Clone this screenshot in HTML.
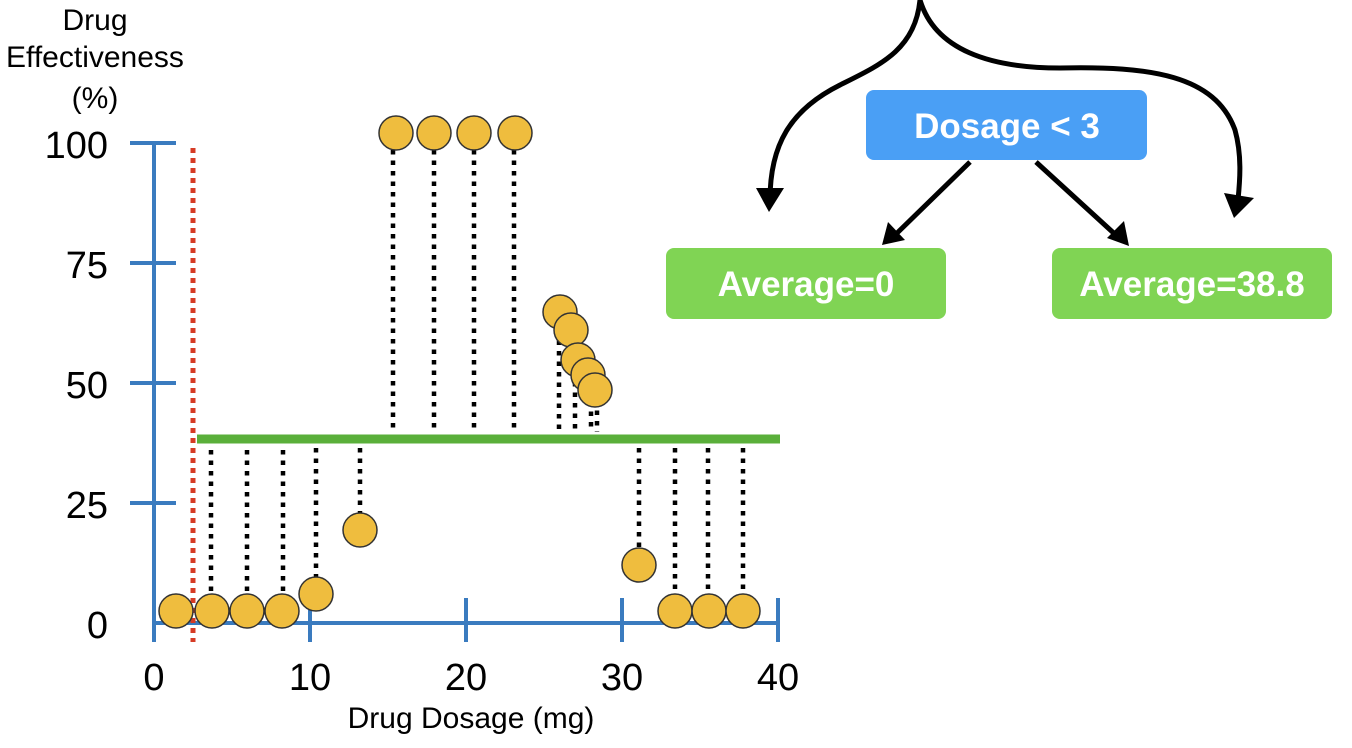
<!DOCTYPE html>
<html><head><style>body{margin:0;background:#fff}svg{display:block}</style></head><body>
<svg width="1352" height="748" viewBox="0 0 1352 748" font-family="Liberation Sans, sans-serif">
<g fill="#000" font-size="30" text-anchor="middle">
<text x="95" y="30">Drug</text><text x="95" y="67">Effectiveness</text><text x="95" y="108">(%)</text>
<text x="471" y="728">Drug Dosage (mg)</text>
</g>
<g font-size="38" text-anchor="end">
<text x="108" y="158">100</text><text x="108" y="278">75</text><text x="108" y="398">50</text><text x="108" y="518">25</text><text x="108" y="638">0</text>
</g>
<g font-size="38" text-anchor="middle">
<text x="154" y="690">0</text><text x="310" y="690">10</text><text x="466" y="690">20</text><text x="622" y="690">30</text><text x="778" y="690">40</text>
</g>
<g stroke="#3a7bbf" stroke-width="4">
<line x1="154" y1="141" x2="154" y2="642"/><line x1="152" y1="623" x2="780" y2="623"/>
<line x1="130" y1="143" x2="176" y2="143"/><line x1="130" y1="263" x2="176" y2="263"/><line x1="130" y1="383" x2="176" y2="383"/><line x1="130" y1="503" x2="176" y2="503"/>
<line x1="310" y1="598" x2="310" y2="642"/><line x1="466" y1="598" x2="466" y2="642"/><line x1="622" y1="598" x2="622" y2="642"/><line x1="778" y1="598" x2="778" y2="642"/>
</g>
<line x1="193" y1="148" x2="193" y2="642" stroke="#d63b25" stroke-width="5" stroke-dasharray="5,5"/>
<g stroke="#000" stroke-width="4.5" stroke-dasharray="4.5,6">
<line x1="211" y1="450" x2="211" y2="600"/><line x1="247" y1="450" x2="247" y2="600"/><line x1="283" y1="450" x2="283" y2="600"/><line x1="316" y1="448" x2="316" y2="582"/><line x1="360" y1="448" x2="360" y2="515"/>
<line x1="393" y1="150" x2="393" y2="432"/><line x1="434" y1="150" x2="434" y2="432"/><line x1="474" y1="150" x2="474" y2="432"/><line x1="514" y1="150" x2="514" y2="432"/>
<line x1="559" y1="330" x2="559" y2="432"/><line x1="575" y1="340" x2="575" y2="432"/><line x1="591" y1="380" x2="591" y2="432"/><line x1="597" y1="400" x2="597" y2="432"/>
<line x1="639" y1="448" x2="639" y2="550"/><line x1="675" y1="448" x2="675" y2="598"/><line x1="708" y1="448" x2="708" y2="598"/><line x1="743" y1="448" x2="743" y2="598"/>
</g>
<line x1="197" y1="439" x2="780" y2="439" stroke="#5aaf3a" stroke-width="9"/>
<g fill="#efbd3e" stroke="#333" stroke-width="1.5">
<circle cx="176" cy="611" r="17"/><circle cx="212" cy="611" r="17"/><circle cx="247" cy="611" r="17"/><circle cx="282" cy="611" r="17"/><circle cx="316" cy="594" r="17"/><circle cx="360" cy="530" r="17"/>
<circle cx="396" cy="133" r="17"/><circle cx="434" cy="133" r="17"/><circle cx="474" cy="133" r="17"/><circle cx="515" cy="133" r="17"/>
<circle cx="560" cy="312" r="17"/><circle cx="571" cy="330" r="17"/><circle cx="578" cy="360" r="17"/><circle cx="588" cy="375" r="17"/><circle cx="595" cy="390" r="17"/>
<circle cx="639" cy="565" r="17"/><circle cx="675" cy="611" r="17"/><circle cx="709" cy="611" r="17"/><circle cx="743" cy="611" r="17"/>
</g>
<g fill="none" stroke="#000" stroke-width="5">
<path d="M920 0 C915 50 880 65 840 85 C790 110 770 145 770 200"/>
<path d="M920 0 C935 50 990 68 1060 68 C1150 66 1215 75 1235 130 C1242 155 1240 180 1238 200"/>
<line x1="970" y1="162" x2="893" y2="237"/><line x1="1036" y1="162" x2="1118" y2="237"/>
</g>
<g fill="#000">
<polygon points="756,188 784,188 769,212"/><polygon points="1224,193 1254,198 1234,218"/>
<polygon points="882,245 888,222 905,240"/><polygon points="1129,246 1107,238 1124,221"/>
</g>
<rect x="866" y="90" width="281" height="70" rx="8" fill="#4a9ff5"/>
<rect x="666" y="248" width="280" height="71" rx="8" fill="#80d454"/>
<rect x="1052" y="248" width="280" height="71" rx="8" fill="#80d454"/>
<g fill="#fff" font-size="35" font-weight="bold" text-anchor="middle">
<text x="1007" y="138">Dosage &lt; 3</text><text x="806" y="296">Average=0</text><text x="1192" y="296">Average=38.8</text>
</g>
</svg>
</body></html>
